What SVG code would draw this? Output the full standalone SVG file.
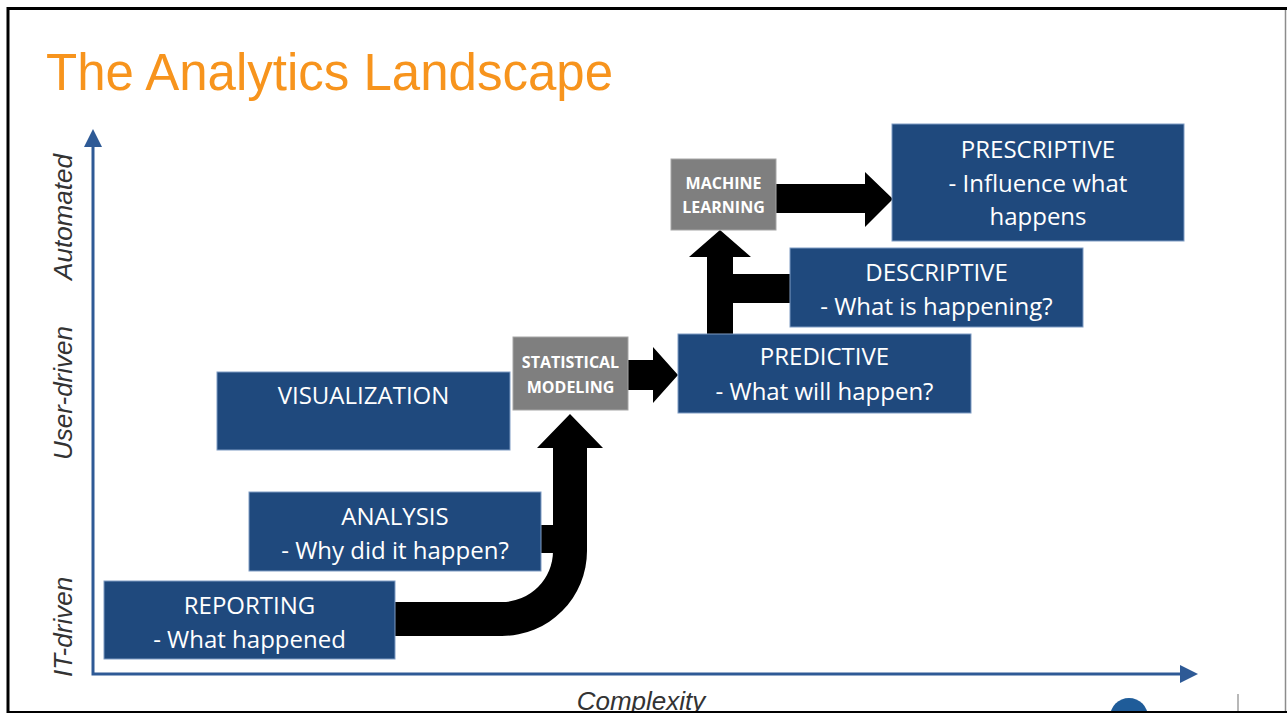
<svg xmlns="http://www.w3.org/2000/svg" width="1287" height="713" viewBox="0 0 1287 713">
  <defs>
    <style>
      .box { fill: #1F497D; stroke: #7F9CC4; stroke-width: 1; }
      .gbox { fill: #7F7F7F; stroke: #A6A6A6; stroke-width: 1; }
      .lbl { font-family: "Open Sans", "Liberation Sans", sans-serif; font-size: 24px; fill: #FFFFFF; text-anchor: middle; }
      .glbl { font-family: "Open Sans", "Liberation Sans", sans-serif; font-size: 16px; font-weight: bold; fill: #FFFFFF; text-anchor: middle; }
      .axis-lbl { font-family: "Liberation Sans", Arial, sans-serif; font-size: 26px; font-style: italic; fill: #333333; text-anchor: middle; }
      .flow { fill: #000000; }
      .axis { fill: none; stroke: #2E5A96; stroke-width: 3; }
    </style>
    <marker id="axisHead" viewBox="0 0 18 18" refX="0" refY="9" markerWidth="18" markerHeight="18" markerUnits="userSpaceOnUse" orient="auto-start-reverse">
      <path d="M0,0 L18,9 L0,18 Z" fill="#2E5A96"/>
    </marker>
    <clipPath id="inner">
      <rect x="7" y="8" width="1279" height="703"/>
    </clipPath>
  </defs>

  <rect x="0" y="0" width="1287" height="713" fill="#FFFFFF"/>

  <!-- Title -->
  <text x="46" y="90" font-family="'Liberation Sans', Arial, sans-serif" font-size="51" fill="#F7941D">The Analytics Landscape</text>

  <!-- Axes -->
  <g id="axes">
    <path class="axis" d="M93 147 L93 674 L1180 674" marker-start="url(#axisHead)" marker-end="url(#axisHead)"/>
    <text class="axis-lbl" transform="translate(72,217) rotate(-90)">Automated</text>
    <text class="axis-lbl" transform="translate(72,393) rotate(-90)">User-driven</text>
    <text class="axis-lbl" transform="translate(72,627) rotate(-90)">IT-driven</text>
    <text class="axis-lbl" x="641" y="710" clip-path="url(#inner)">Complexity</text>
  </g>

  <!-- Connectors -->
  <g id="connectors">
    <!-- Reporting bends up into Statistical Modeling -->
    <path class="flow" d="M395 602 L502 602 A51 51 0 0 0 553 551 L553 448 L537 448 L570 414 L603 448 L587 448 L587 551 A85 85 0 0 1 502 636 L395 636 Z"/>
    <!-- Analysis joins the riser -->
    <rect class="flow" x="540" y="525" width="15" height="28"/>
    <!-- Statistical Modeling to Predictive -->
    <path class="flow" d="M628 360 L653 360 L653 347 L678 375 L653 403 L653 390 L628 390 Z"/>
    <!-- Predictive up to Machine Learning -->
    <path class="flow" d="M707 334 L707 257 L689 257 L720 230 L751 257 L733 257 L733 334 Z"/>
    <!-- Descriptive joins the riser -->
    <rect class="flow" x="732" y="274" width="59" height="29"/>
    <!-- Machine Learning to Prescriptive -->
    <path class="flow" d="M776 184 L865 184 L865 172 L893 199 L865 227 L865 213 L776 213 Z"/>
  </g>

  <!-- Nodes -->
  <g id="reporting">
    <rect class="box" x="104" y="581" width="291" height="78"/>
    <text class="lbl" x="249.5" y="614">REPORTING</text>
    <text class="lbl" x="249.5" y="648">- What happened</text>
  </g>
  <g id="analysis">
    <rect class="box" x="249" y="492" width="292" height="79"/>
    <text class="lbl" x="395" y="525">ANALYSIS</text>
    <text class="lbl" x="395" y="559">- Why did it happen?</text>
  </g>
  <g id="visualization">
    <rect class="box" x="217" y="372" width="293" height="78"/>
    <text class="lbl" x="363.5" y="404">VISUALIZATION</text>
  </g>
  <g id="statistical-modeling">
    <rect class="gbox" x="513" y="337" width="115" height="73"/>
    <text class="glbl" x="570.5" y="368">STATISTICAL</text>
    <text class="glbl" x="570.5" y="393">MODELING</text>
  </g>
  <g id="predictive">
    <rect class="box" x="678" y="334" width="293" height="79"/>
    <text class="lbl" x="824.5" y="365">PREDICTIVE</text>
    <text class="lbl" x="824.5" y="400">- What will happen?</text>
  </g>
  <g id="descriptive">
    <rect class="box" x="790" y="248" width="293" height="79"/>
    <text class="lbl" x="936.5" y="281">DESCRIPTIVE</text>
    <text class="lbl" x="936.5" y="315">- What is happening?</text>
  </g>
  <g id="machine-learning">
    <rect class="gbox" x="671" y="159" width="105" height="71"/>
    <text class="glbl" x="723.5" y="189">MACHINE</text>
    <text class="glbl" x="723.5" y="213">LEARNING</text>
  </g>
  <g id="prescriptive">
    <rect class="box" x="892" y="124" width="292" height="117"/>
    <text class="lbl" x="1038" y="158">PRESCRIPTIVE</text>
    <text class="lbl" x="1038" y="192">- Influence what</text>
    <text class="lbl" x="1038" y="225">happens</text>
  </g>

  <!-- Bottom-right corner marks -->
  <g clip-path="url(#inner)">
    <circle cx="1129" cy="717" r="19" fill="#1F5C99"/>
    <line x1="1238" y1="694" x2="1238" y2="711" stroke="#A0A0A0" stroke-width="1.5"/>
  </g>

  <!-- Frame -->
  <g id="frame">
    <line x1="7" y1="8.5" x2="1287" y2="8.5" stroke="#000000" stroke-width="3"/>
    <line x1="8" y1="7" x2="8" y2="713" stroke="#000000" stroke-width="3"/>
    <line x1="1285.5" y1="10" x2="1285.5" y2="711" stroke="#8C8C8C" stroke-width="1.5"/>
    <line x1="7" y1="712" x2="1287" y2="712" stroke="#000000" stroke-width="2"/>
  </g>
</svg>
